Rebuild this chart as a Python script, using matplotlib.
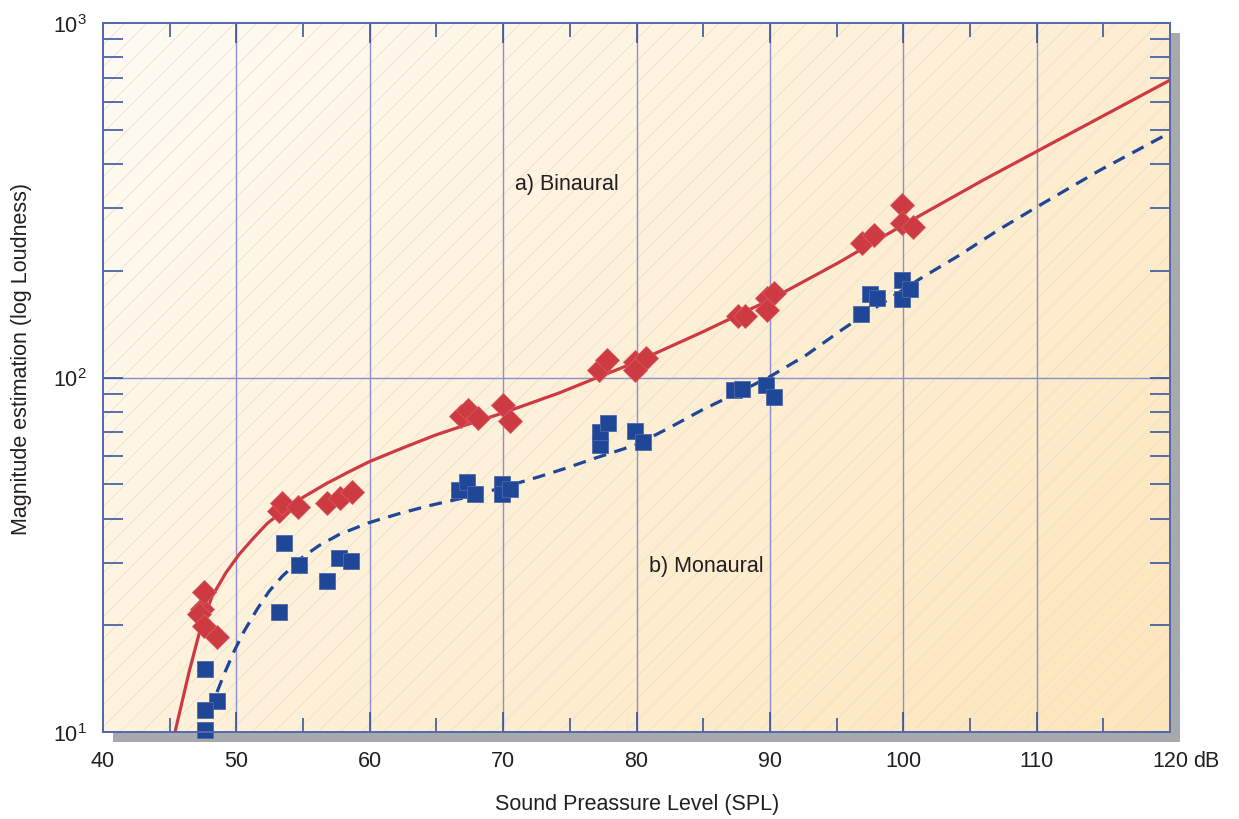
# Loudness vs. SPL: binaural vs monaural magnitude estimation
import numpy as np
import matplotlib
matplotlib.use("Agg")
import matplotlib.pyplot as plt
from matplotlib.patches import Rectangle
from matplotlib.ticker import FixedLocator, NullFormatter

plt.rcParams['font.family'] = ['Liberation Sans', 'DejaVu Sans']
plt.rcParams['mathtext.fontset'] = 'custom'
plt.rcParams['mathtext.rm'] = 'Liberation Sans'

binaural_x = [47.4, 47.6, 47.2, 47.6, 48.55, 53.2, 53.4, 54.6, 56.8, 57.8, 58.7,
              66.85, 67.4, 68.1, 70.0, 70.5, 77.2, 77.8, 79.9, 80.7, 79.9,
              87.6, 88.1, 89.8, 90.3, 89.8, 96.9, 97.8, 99.9, 99.9, 100.7]
binaural_y = [22.2, 24.8, 21.5, 19.9, 18.5, 41.9, 44.4, 43.2, 44.3, 45.8, 47.6,
              78.0, 81.0, 76.9, 83.7, 75.4, 105, 112, 110.6, 113.5, 105,
              149, 149, 168, 173, 155, 239, 252, 306, 272, 265]

monaural_x = [47.65, 48.55, 47.65, 47.65, 53.6, 54.7, 53.2, 56.8, 57.7, 58.6,
              66.7, 67.3, 67.9, 69.9, 69.9, 70.5, 77.3, 77.3, 77.9, 79.9, 80.5,
              87.3, 87.9, 89.7, 90.3, 96.8, 97.5, 98.0, 99.9, 99.9, 100.5]
monaural_y = [15.1, 12.2, 11.5, 10.1, 34.2, 29.5, 21.8, 26.6, 30.9, 30.3,
              48.0, 50.8, 47.0, 50.2, 47.0, 48.6, 64.6, 70.2, 74.5, 70.7, 65.9,
              92.2, 92.8, 95.3, 88.1, 151, 172, 168, 188, 167, 178]

# fitted curves
bin_curve_x = [45.4, 46.45, 47.35, 48.18, 49.23, 50.2, 51.18, 52.3, 53.43, 54.7,
               56.73, 58.45, 59.95, 62.5, 64.98, 67.45, 70.0, 74.2, 76.98, 79.98,
               84.93, 89.95, 95.2, 99.93, 105.93, 109.98, 120]
bin_curve_y = [10.0, 14.75, 19.87, 24.14, 28.19, 31.67, 34.9, 38.72, 41.85, 45.23,
               50.17, 54.22, 57.85, 63.35, 68.93, 74.0, 79.45, 90.45, 99.7, 110.6,
               134.3, 165.2, 211.4, 268.5, 359.4, 433.7, 690]

mon_curve_x = [48.55, 49.08, 49.83, 50.58, 51.55, 52.45, 53.43, 54.93, 56.2, 57.7,
               59.95, 62.2, 64.45, 67.45, 69.93, 72.7, 74.58, 76.98, 79.98, 82.45,
               84.93, 87.7, 89.95, 92.73, 95.58, 98.2, 101.2, 104.2, 107.2, 110.2,
               114.7, 120]
mon_curve_y = [12.96, 14.56, 16.9, 19.24, 22.18, 24.93, 27.47, 31.07, 33.57, 36.06,
               38.96, 41.3, 43.5, 46.12, 48.9, 52.5, 55.28, 59.37, 64.59, 72.1,
               81.04, 91.03, 100.3, 115.7, 137.8, 159.9, 189.3, 221.1, 261.7, 305.6,
               383.5, 490.5]

x_ticks = [40, 50, 60, 70, 80, 90, 100, 110, 120]
x_ticklabels = ["40", "50", "60", "70", "80", "90", "100", "110", "120"]
y_ticks = [10, 100, 1000]
y_ticklabels = [r"$\mathregular{10^{1}}$", r"$\mathregular{10^{2}}$", r"$\mathregular{10^{3}}$"]

red = "#cd3a42"
blue = "#1f4697"
txt = "#231f20"
tickc = "#2a4a9a"
fs = 15.5

fig = plt.figure(figsize=(12.39, 8.2), dpi=100)
Wp, Hp = 1067, 709
L, B = 103 / 1239, 1 - 733 / 820
W, H = Wp / 1239, Hp / 820

# drop shadow behind the plot frame
fig.add_artist(Rectangle((L + 10 / 1239, B - 10 / 820), W, H, transform=fig.transFigure,
                         facecolor="#a8a9ad", edgecolor="none", zorder=0))
ax = fig.add_axes([L, B, W, H])
ax.set_zorder(1)
ax.set_yscale("log")

# cream gradient background
gx = np.linspace(0, 1, 400)[None, :]
gy = np.linspace(0, 1, 300)[:, None]
t = (gx * Wp + gy * Hp) / (Wp + Hp)
c0 = np.array([255, 251, 244]) / 255
c1 = np.array([253, 229, 186]) / 255
img = c0[None, None, :] + (c1 - c0)[None, None, :] * t[:, :, None]
ax.imshow(img, extent=[0, 1, 0, 1], transform=ax.transAxes, aspect="auto",
          zorder=0, interpolation="bilinear")

# faint diagonal hatching
for c in np.arange(-Hp, Wp, 22):
    ax.plot([c / Wp, (c + Hp) / Wp], [0, 1], transform=ax.transAxes,
            color="#e8dece", lw=0.5, zorder=0.5)

# grid
for v in range(50, 120, 10):
    ax.axvline(v, color="#8b90cc", lw=1.0, zorder=1)
ax.axhline(100, color="#8b90cc", lw=1.0, zorder=1)

# curves
ax.plot(bin_curve_x, bin_curve_y, color=red, lw=2.3, zorder=3, solid_joinstyle="round")
ax.plot(mon_curve_x, mon_curve_y, color=blue, lw=2.3, dashes=(4, 2.7), zorder=3)

# points
ax.plot(binaural_x, binaural_y, "D", ms=12, color=red, mec="#d65a60", mew=0.6,
        ls="none", zorder=4, clip_on=False)
ax.plot(monaural_x, monaural_y, "s", ms=11.5, color=blue, mec="#4d6aa8", mew=0.6,
        ls="none", zorder=4, clip_on=False)

ax.text(70.9, 352, "a) Binaural", fontsize=fs, color=txt, ha="left", va="center")
ax.text(80.95, 29.5, "b) Monaural", fontsize=fs, color=txt, ha="left", va="center")

# axes, ticks
ax.set_xlim(40, 120)
ax.set_ylim(10, 1000)
ax.set_xticks(x_ticks)
ax.set_xticklabels(x_ticklabels)
ax.set_xticks(range(45, 120, 10), minor=True)
ax.yaxis.set_major_locator(FixedLocator(y_ticks))
ax.set_yticklabels(y_ticklabels)
ax.yaxis.set_minor_locator(FixedLocator([20, 30, 40, 50, 60, 70, 80, 90,
                                         200, 300, 400, 500, 600, 700, 800, 900]))
ax.yaxis.set_minor_formatter(NullFormatter())

ax.tick_params(axis="x", which="major", direction="in", length=14.4, width=1.1,
               color=tickc, top=True, pad=13, labelsize=fs, labelcolor=txt)
ax.tick_params(axis="x", which="minor", direction="in", length=10, width=1.1,
               color=tickc, top=True)
ax.tick_params(axis="y", which="both", direction="in", length=14.4, width=1.1,
               color=tickc, right=True, pad=12, labelsize=fs, labelcolor=txt)

for s in ax.spines.values():
    s.set_color("#5169ae")
    s.set_linewidth(1.4)
    s.set_zorder(5)

ax.annotate("dB", xy=(1, 0), xycoords="axes fraction", xytext=(23, -29),
            textcoords="offset pixels", ha="left", va="center", fontsize=fs, color=txt)

fig.text(22 / 1239, 1 - 359 / 820, "Magnitude estimation (log Loudness)", rotation=90,
         ha="center", va="center", fontsize=fs, color=txt)
fig.text(637 / 1239, 1 - 805 / 820, "Sound Preassure Level (SPL)",
         ha="center", va="center", fontsize=fs, color=txt)

fig.savefig("out.png", dpi=100)
